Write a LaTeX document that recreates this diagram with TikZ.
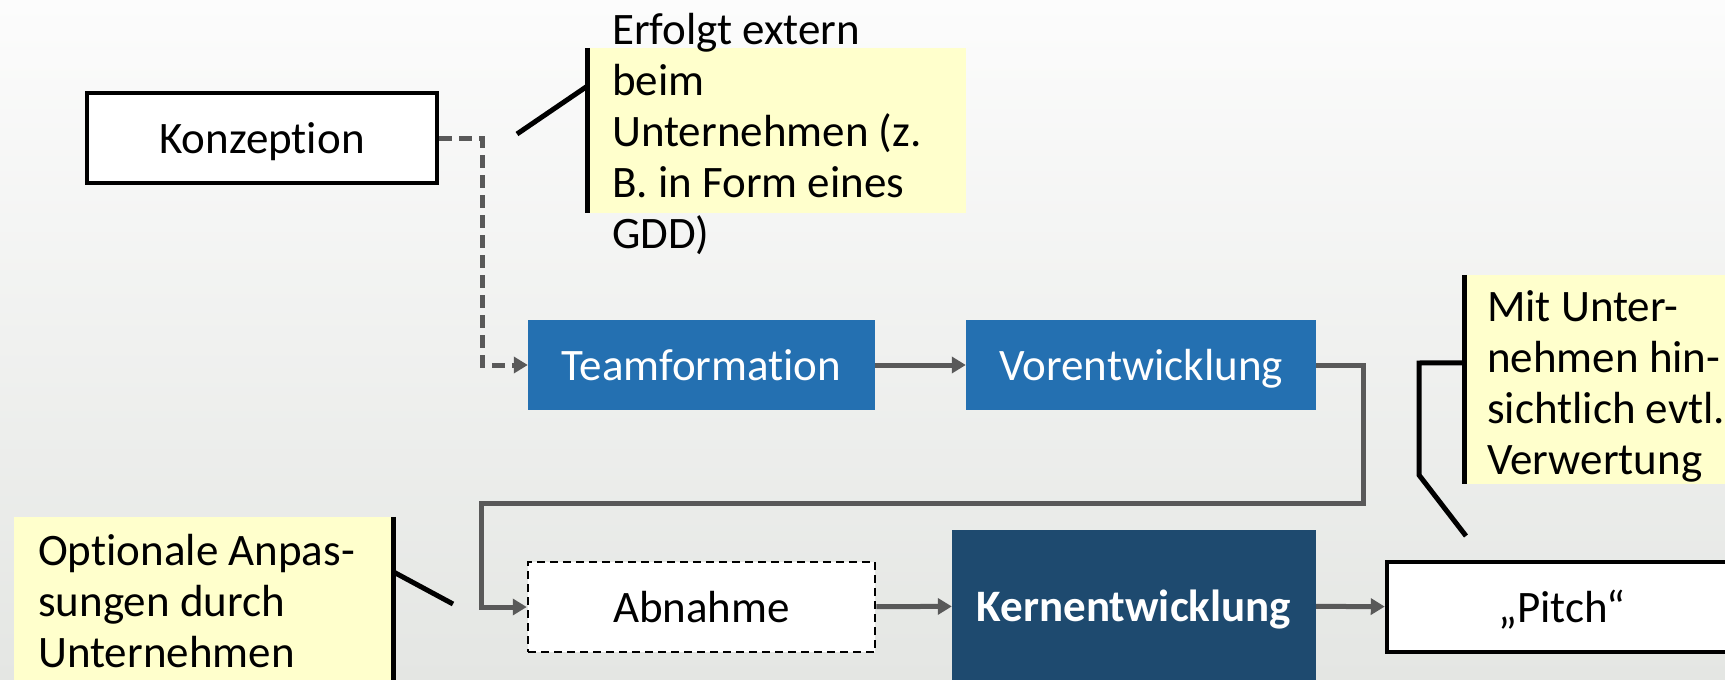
\documentclass[tikz,border=0pt]{standalone}
\usepackage{fontspec}
\setmainfont[Ligatures=NoCommon]{Carlito}
\usetikzlibrary{arrows.meta,calc}
\definecolor{teamblue}{RGB}{36,112,177}
\definecolor{kernblue}{RGB}{30,74,111}
\definecolor{notegelb}{RGB}{255,255,204}
\definecolor{pfeilgrau}{RGB}{89,89,89}
\definecolor{bgoben}{RGB}{252,252,252}
\definecolor{bgunten}{RGB}{228,230,227}

\begin{document}
\begin{tikzpicture}[x=1pt,y=-1pt,
    every node/.style={font=\fontsize{45}{51}\selectfont},
    box/.style={minimum height=90pt,inner sep=0pt,text height=35pt,text depth=5pt},
    plainbox/.style={box,draw=black,fill=white,line width=4.5pt},
    bluebox/.style={box,fill=teamblue,text=white},
    dashbox/.style={box,draw=black,fill=white,line width=2.5pt,dash pattern=on 8pt off 5pt},
    flow/.style={draw=pfeilgrau,line width=5pt,-{Triangle[length=14pt,width=16pt]}},
    notebg/.style={fill=notegelb,inner sep=0pt},
    notebar/.style={draw=black,line width=5pt},
    notetext/.style={anchor=north west,inner sep=0pt,align=left}
    ]
    \useasboundingbox (0,0) rectangle (1725,680);
    \shade[top color=bgoben,bottom color=bgunten] (0,0) rectangle (1725,680);

    \node[notebg,minimum width=378pt,minimum height=165pt] (erfbg) at (777,130.5) {};
    \node[notebg,minimum width=262pt,minimum height=209pt] (mitbg) at (1596,379.5) {};
    \node[notebg,minimum width=379pt,minimum height=173pt] (optbg) at (203.5,603.5) {};
    \draw[notebar] (erfbg.north west) -- (erfbg.south west);
    \draw[notebar] (mitbg.north west) -- (mitbg.south west);
    \draw[notebar] (optbg.north east) -- (optbg.south east);

    \node[notetext] (erfolgt) at (612,13) {Erfolgt extern\\beim\\Unternehmen (z.\\B. in Form eines\\GDD)};
    \node[notetext] (verwertung) at (1487,290) {Mit Unter-\\nehmen hin-\\sichtlich evtl.\\Verwertung};
    \node[notetext] (anpassung) at (38,534) {Optionale Anpas-\\sungen durch\\Unternehmen};

    \node[plainbox,minimum width=350pt] (konzeption) at (262,138) {Konzeption};
    \node[bluebox,minimum width=347pt] (team) at (701.5,365) {Teamformation};
    \node[bluebox,minimum width=350pt] (vorentw) at (1141,365) {Vorentwicklung};
    \node[dashbox,minimum width=347pt] (abnahme) at (701.5,607) {Abnahme};
    \node[box,fill=kernblue,text=white,minimum width=364pt,minimum height=152pt] (kernentw) at (1134,606) {\textbf{Kernentwicklung}};
    \node[plainbox,minimum width=350pt] (pitch) at (1562,607) {„Pitch“};

    \coordinate (erftip) at (517,134);
    \coordinate (mittip) at (1466,536);
    \coordinate (opttip) at (453,604);
    \coordinate (wende) at (481,503);

    \draw[flow,dash pattern=on 13pt off 7pt] (konzeption.east) -- ++(43,0) |- (team.west);
    \draw[flow] (team) -- (vorentw);
    \draw[flow] (vorentw.east) -- ++(47,0) |- (wende) |- (abnahme.west);
    \draw[flow] (abnahme) -- (kernentw);
    \draw[flow] (kernentw) -- (pitch);

    \draw[black,line width=5pt] (erftip) -- ($(erfbg.north west)+(0,38)$);
    \draw[black,line width=5pt] (mittip) -- ++(-47,-61) -- ++(0,-112) -- ($(mitbg.north west)+(0,88)$);
    \draw[black,line width=5pt] (opttip) -- ($(optbg.north east)+(0,55)$);
\end{tikzpicture}
\end{document}
